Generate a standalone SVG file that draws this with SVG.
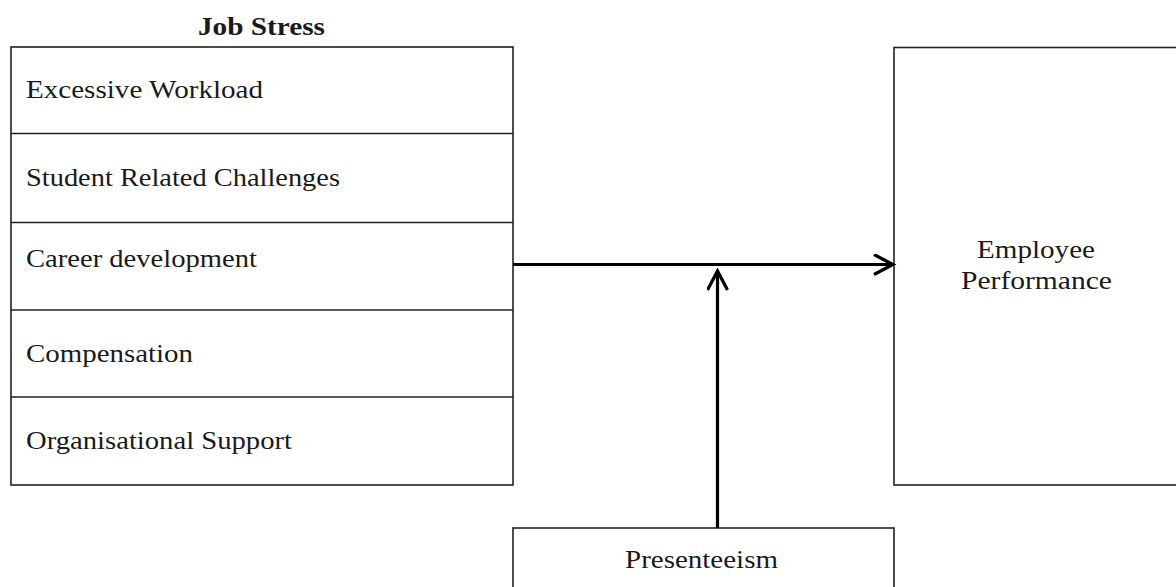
<svg xmlns="http://www.w3.org/2000/svg" width="1176" height="587" viewBox="0 0 1176 587">
<style>
.box{fill:#fff;stroke:#222;stroke-width:1.6}
.div{stroke:#222;stroke-width:1.6}
.t{font-family:"Liberation Serif","Times New Roman",serif;font-size:25px;fill:#1a1a1a}
.h{font-family:"Liberation Serif","Times New Roman",serif;font-size:26px;font-weight:bold;fill:#1a1a1a}
.c{fill:none;stroke:#000;stroke-width:3.2}
</style>
<defs>
<marker id="arr" markerWidth="24" markerHeight="24" refX="20" refY="11" orient="auto" markerUnits="userSpaceOnUse">
<path d="M1,1 L20,11 L1,21" fill="none" stroke="#000" stroke-width="3.2"/>
</marker>
</defs>
<rect width="1176" height="587" fill="#fff"/>
<g id="job-stress">
<text class="h" x="261.5" y="35" text-anchor="middle" textLength="127" lengthAdjust="spacingAndGlyphs">Job Stress</text>
<rect class="box" x="11" y="47" width="502" height="438"/>
<line class="div" x1="11" y1="133.5" x2="513" y2="133.5"/>
<line class="div" x1="11" y1="222.5" x2="513" y2="222.5"/>
<line class="div" x1="11" y1="310" x2="513" y2="310"/>
<line class="div" x1="11" y1="397" x2="513" y2="397"/>
<text class="t" x="26" y="98" textLength="237" lengthAdjust="spacingAndGlyphs">Excessive Workload</text>
<text class="t" x="26" y="186" textLength="314" lengthAdjust="spacingAndGlyphs">Student Related Challenges</text>
<text class="t" x="26" y="266.5" textLength="231" lengthAdjust="spacingAndGlyphs">Career development</text>
<text class="t" x="26" y="362" textLength="167" lengthAdjust="spacingAndGlyphs">Compensation</text>
<text class="t" x="26" y="448.5" textLength="266" lengthAdjust="spacingAndGlyphs">Organisational Support</text>
</g>
<g id="employee-performance">
<rect class="box" x="894" y="47.5" width="300" height="437.5"/>
<text class="t" x="1036" y="258" text-anchor="middle" textLength="118" lengthAdjust="spacingAndGlyphs">Employee</text>
<text class="t" x="1036.5" y="289" text-anchor="middle" textLength="151" lengthAdjust="spacingAndGlyphs">Performance</text>
</g>
<g id="presenteeism">
<rect class="box" x="513" y="528" width="381" height="80"/>
<text class="t" x="701.5" y="567.5" text-anchor="middle" textLength="153" lengthAdjust="spacingAndGlyphs">Presenteeism</text>
</g>
<g id="connectors">
<line class="c" x1="513" y1="264.5" x2="893" y2="264.5" marker-end="url(#arr)"/>
<line class="c" x1="717.5" y1="528" x2="717.5" y2="271" marker-end="url(#arr)"/>
</g>
</svg>
